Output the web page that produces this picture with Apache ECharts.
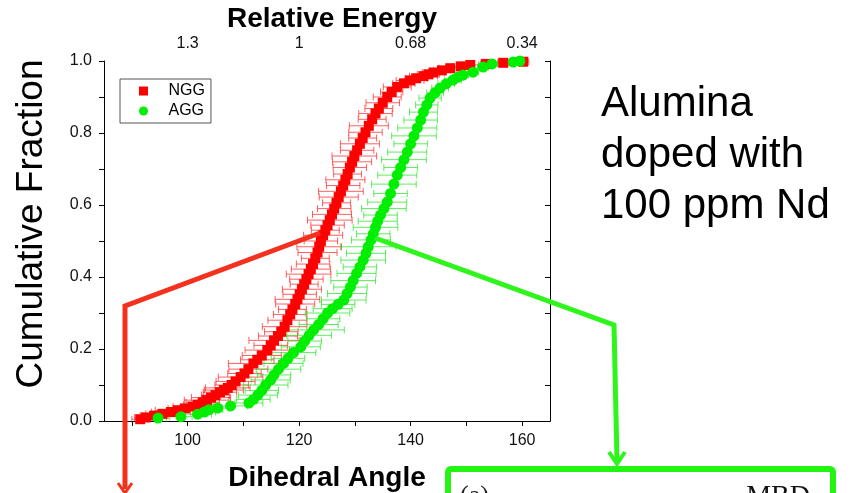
<!DOCTYPE html>
<html>
<head>
<meta charset="utf-8">
<script src="https://cdn.jsdelivr.net/npm/echarts@6/dist/echarts.min.js"></script>
<style>
  html, body { margin: 0; padding: 0; background: #fff; }
  #main { width: 850px; height: 493px; }
</style>
</head>
<body>
<div id="main"></div>
<script>
// 数据：[二面角, 累积分数, 误差]
var nggData = [
  [91.5,0.005,1.5],[92.5,0.010,2.0],[94.0,0.015,2.5],[95.5,0.020,3.0],[97.0,0.025,3.5],
  [98.2,0.030,4.0],[99.5,0.035,3.0],[100.9,0.040,3.5],[101.8,0.045,2.5],[102.7,0.052,3.0],
  [103.4,0.058,4.0],[104.2,0.065,3.5],[105.0,0.072,2.5],[105.8,0.080,3.0],[106.5,0.086,3.5],
  [107.2,0.092,4.0],[107.9,0.100,3.0],[108.6,0.110,3.5],[109.5,0.122,4.0],[110.2,0.132,3.0],
  [110.9,0.144,3.5],[111.8,0.160,4.5],[112.5,0.170,3.0],[113.3,0.182,3.5],[114.3,0.197,4.0],
  [114.9,0.210,3.0],[115.5,0.224,4.5],[116.2,0.236,3.5],[116.8,0.248,3.0],[117.4,0.262,4.0],
  [117.9,0.280,3.5],[118.4,0.296,3.0],[118.8,0.310,2.5],[119.3,0.325,3.5],[119.7,0.338,4.0],
  [120.1,0.352,3.0],[120.5,0.366,3.5],[120.9,0.380,2.5],[121.3,0.394,3.0],[121.7,0.408,4.0],
  [122.1,0.422,3.5],[122.5,0.436,3.0],[122.9,0.452,2.5],[123.3,0.468,3.5],[123.6,0.484,4.0],
  [123.9,0.500,3.0],[124.3,0.516,3.5],[124.7,0.530,2.5],[125.1,0.544,3.0],[125.5,0.558,4.0],
  [125.9,0.574,3.5],[126.3,0.590,3.0],[126.7,0.606,2.5],[127.1,0.622,3.5],[127.5,0.638,4.0],
  [127.9,0.654,3.0],[128.3,0.670,3.5],[128.7,0.686,2.5],[129.1,0.704,3.0],[129.5,0.720,3.5],
  [129.9,0.736,4.0],[130.4,0.752,3.0],[130.9,0.770,3.5],[131.4,0.786,2.5],[131.9,0.802,3.0],
  [132.5,0.820,3.5],[133.1,0.838,2.5],[133.7,0.854,3.0],[134.3,0.868,2.5],[135.0,0.884,3.0],
  [135.8,0.900,2.5],[136.6,0.914,2.0],[137.6,0.928,2.5],[138.8,0.938,2.0],[139.9,0.946,2.5],
  [141.0,0.952,2.0],[142.3,0.958,2.5],[143.2,0.963,2.0],[144.1,0.968,2.0],[145.6,0.974,1.5],
  [147.1,0.980,2.0],[149.0,0.985,1.5],[150.7,0.989,1.5],[153.5,0.992,1.0],[156.6,0.995,1.0],
  [160.2,0.998,1.0]
];

var aggData = [
  [94.7,0.008,1.5],[98.8,0.012,2.0],[101.8,0.019,2.5],[103.0,0.025,2.0],[103.8,0.031,2.5],
  [105.4,0.036,2.0],[107.7,0.042,3.0],[111.0,0.050,2.5],[111.8,0.060,3.0],[112.6,0.072,3.5],
  [113.3,0.085,3.0],[114.0,0.100,4.0],[114.9,0.114,3.5],[115.5,0.128,3.0],[116.3,0.144,4.0],
  [117.2,0.160,3.5],[118.0,0.174,3.0],[119.0,0.190,4.0],[120.3,0.206,3.5],[121.0,0.222,3.0],
  [121.8,0.238,4.0],[122.6,0.253,5.5],[123.5,0.268,3.5],[124.3,0.284,3.0],[125.1,0.300,4.0],
  [126.0,0.312,3.5],[127.0,0.324,3.0],[128.0,0.336,4.0],[128.6,0.354,3.5],[129.2,0.372,3.0],
  [129.7,0.390,4.0],[130.3,0.410,3.5],[130.9,0.428,3.0],[131.5,0.447,4.0],[132.0,0.466,3.5],
  [132.4,0.484,5.0],[132.9,0.503,3.5],[133.3,0.520,3.0],[133.7,0.538,4.0],[134.1,0.555,3.5],
  [134.6,0.572,3.0],[135.2,0.590,4.0],[135.8,0.608,3.5],[136.4,0.632,3.0],[137.0,0.658,4.0],
  [137.6,0.683,3.5],[138.2,0.704,3.0],[138.8,0.726,4.0],[139.4,0.747,3.5],[140.0,0.770,3.0],
  [140.6,0.792,4.0],[141.2,0.814,3.5],[141.8,0.836,3.0],[142.3,0.858,2.5],[142.9,0.878,2.0],
  [143.5,0.897,2.0],[144.4,0.912,1.5],[145.3,0.925,1.5],[146.4,0.937,1.5],[147.6,0.947,1.5],
  [148.5,0.955,1.0],[149.4,0.961,1.0],[151.2,0.969,1.0],[153.0,0.983,1.0],[154.6,0.992,1.0],
  [158.4,0.997,1.0],[159.6,1.000,1.0]
];

// 坐标轴刻度
var angleTicks = [90, 100, 110, 120, 130, 140, 150, 160];
var angleLabels = [100, 120, 140, 160];
var energyLabels = ['1.3', '1', '0.68', '0.34'];
var fracTicks = [0, 0.1, 0.2, 0.3, 0.4, 0.5, 0.6, 0.7, 0.8, 0.9, 1.0];
var fracLabels = [0, 0.2, 0.4, 0.6, 0.8, 1.0];

var FONT = '"Liberation Sans", Arial, sans-serif';
var RED_LINE = '#f2321f';
var GREEN_LINE = '#2ef51c';

// 水平误差棒
function errorBars(color) {
    return function (params, api) {
        var x = api.value(0), y = api.value(1), e = api.value(2);
        var lo = api.coord([x - e, y]);
        var hi = api.coord([x + e, y]);
        var st = { stroke: color, lineWidth: 1 };
        var h = 3.5;
        return {
            type: 'group',
            children: [
                { type: 'line', shape: { x1: lo[0], y1: lo[1], x2: hi[0], y2: hi[1] }, style: st },
                { type: 'line', shape: { x1: lo[0], y1: lo[1] - h, x2: lo[0], y2: lo[1] + h }, style: st },
                { type: 'line', shape: { x1: hi[0], y1: hi[1] - h, x2: hi[0], y2: hi[1] + h }, style: st }
            ]
        };
    };
}

var myChart = echarts.init(document.getElementById('main'));

var axisCommon = {
    type: 'value',
    axisLine: { show: true, lineStyle: { color: '#000', width: 1 } },
    splitLine: { show: false }
};

var option = {
    animation: false,
    backgroundColor: '#fff',
    grid: { left: 104, right: 300, top: 61, bottom: 72 },
    legend: {
        data: [
            { name: 'NGG', icon: 'path://M0,0L10,0L10,10L0,10Z' },
            { name: 'AGG', icon: 'circle' }
        ],
        orient: 'vertical',
        left: 120,
        top: 79,
        itemWidth: 10,
        itemHeight: 9,
        itemGap: 4,
        padding: [4, 6, 4, 19],
        borderColor: '#555',
        borderWidth: 1,
        textStyle: { fontFamily: FONT, fontSize: 16, color: '#000', padding: [0, 0, 0, 15] }
    },
    xAxis: [
        Object.assign({}, axisCommon, {
            position: 'bottom',
            min: 85, max: 165,
            axisTick: { show: true, inside: false, length: 5, customValues: angleTicks, lineStyle: { color: '#000' } },
            axisLabel: { customValues: angleLabels, margin: 12, fontFamily: FONT, fontSize: 16, color: '#111' }
        }),
        Object.assign({}, axisCommon, {
            position: 'top',
            min: 85, max: 165,
            axisTick: { show: true, inside: true, length: 5, customValues: angleTicks, lineStyle: { color: '#000' } },
            axisLabel: {
                customValues: angleLabels, margin: 9, fontFamily: FONT, fontSize: 16, color: '#111',
                formatter: function (v) { return energyLabels[angleLabels.indexOf(v)]; }
            }
        })
    ],
    yAxis: [
        Object.assign({}, axisCommon, {
            position: 'left',
            min: 0, max: 1,
            axisTick: { show: true, inside: false, length: 5, customValues: fracTicks, lineStyle: { color: '#000' } },
            axisLabel: {
                customValues: fracLabels, margin: 12, fontFamily: FONT, fontSize: 16, color: '#111',
                formatter: function (v) { return v.toFixed(1); }
            }
        }),
        Object.assign({}, axisCommon, {
            position: 'right',
            min: 0, max: 1,
            axisTick: { show: true, inside: true, length: 5, customValues: fracTicks, lineStyle: { color: '#000' } },
            axisLabel: { show: false }
        })
    ],
    series: [
        {
            name: 'NGG err', type: 'custom', data: nggData,
            encode: { x: 0, y: 1 }, renderItem: errorBars('rgba(255,30,30,0.7)'), z: 1
        },
        {
            name: 'AGG err', type: 'custom', data: aggData,
            encode: { x: 0, y: 1 }, renderItem: errorBars('rgba(40,230,40,0.75)'), z: 1
        },
        {
            name: 'NGG', type: 'scatter', data: nggData, symbol: 'rect', symbolSize: 10,
            itemStyle: { color: '#ff0000', opacity: 1 }, z: 3
        },
        {
            name: 'AGG', type: 'scatter', data: aggData, symbol: 'circle', symbolSize: 11,
            itemStyle: { color: '#00ee00', opacity: 1 }, z: 4
        }
    ],
    graphic: [
        // 标题
        { type: 'text', x: 332, y: 19, z: 10, style: { text: 'Relative Energy', font: 'bold 28px ' + FONT, fill: '#000', textAlign: 'center', textVerticalAlign: 'middle' } },
        { type: 'text', x: 327, y: 478, z: 10, style: { text: 'Dihedral Angle', font: 'bold 28px ' + FONT, fill: '#000', textAlign: 'center', textVerticalAlign: 'middle' } },
        { type: 'text', x: 32, y: 224, rotation: Math.PI / 2, z: 10, style: { text: 'Cumulative Fraction', font: '37px ' + FONT, fill: '#000', textAlign: 'center', textVerticalAlign: 'middle' } },
        { type: 'text', x: 601, y: 79, z: 10, style: { text: 'Alumina\ndoped with\n100 ppm Nd', font: '42px ' + FONT, lineHeight: 51, fill: '#000', textAlign: 'left', textVerticalAlign: 'top' } },
        // 红色指示线
        { type: 'polyline', z: 20, shape: { points: [[320, 233], [125, 306], [125, 489]] }, style: { stroke: RED_LINE, lineWidth: 5, fill: null, lineJoin: 'miter' } },
        { type: 'polyline', z: 20, shape: { points: [[118, 483], [125, 493], [132, 483]] }, style: { stroke: RED_LINE, lineWidth: 3, fill: null } },
        // 绿色指示线
        { type: 'polyline', z: 20, shape: { points: [[375, 238], [614, 325], [617, 461]] }, style: { stroke: GREEN_LINE, lineWidth: 5, fill: null, lineJoin: 'miter' } },
        { type: 'polyline', z: 20, shape: { points: [[609, 452], [617, 464], [625, 452]] }, style: { stroke: GREEN_LINE, lineWidth: 4, fill: null } },
        // 绿色框
        { type: 'rect', z: 20, shape: { x: 448, y: 469, width: 385, height: 80, r: 3 }, style: { stroke: '#22f511', lineWidth: 6, fill: '#fff' } },
        { type: 'text', x: 460, y: 483, z: 21, style: { text: '(a)', font: '26px "Liberation Serif", serif', fill: '#222', textVerticalAlign: 'top' } },
        { type: 'text', x: 810, y: 483, z: 21, style: { text: 'MBD', font: '28px "Liberation Serif", serif', fill: '#111', textAlign: 'right', textVerticalAlign: 'top' } }
    ]
};

myChart.setOption(option);
</script>
</body>
</html>
